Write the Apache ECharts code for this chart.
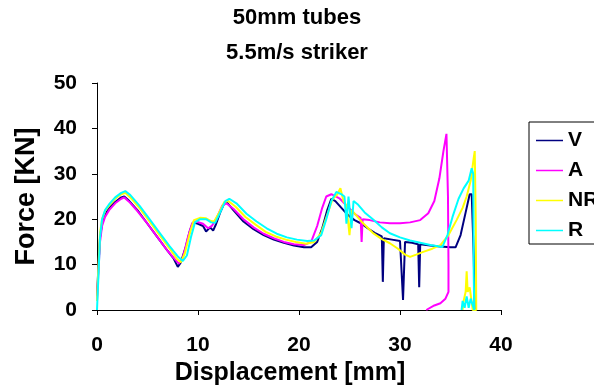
<!DOCTYPE html>
<html>
<head>
<meta charset="utf-8">
<script src="https://cdn.jsdelivr.net/npm/echarts@6/dist/echarts.min.js"></script>
<style>
  html, body { margin: 0; padding: 0; background: #fff; }
  #chart { width: 594px; height: 392px; }
</style>
</head>
<body>
<div id="chart"></div>
<script>
// series names + colours
const SERIES_NAMES = ['V', 'A', 'NR', 'R'];
const SERIES_COLORS = ['#000080', '#FF00FF', '#FFFF00', '#00FFFF'];

// [displacement mm, force kN]
const vData = [
  [0, 3], [0.15, 10], [0.3, 16], [0.5, 19], [0.8, 21], [1.2, 22.5], [1.8, 23.8], [2.4, 24.8], [2.7, 25],
  [3.2, 24], [4, 22], [5, 19], [6, 16], [7, 13], [7.6, 11.3], [8, 9.5], [8.3, 10.5], [8.8, 14], [9.2, 17.5],
  [9.5, 19.3], [10, 19], [10.5, 18.5], [10.8, 17.3], [11.2, 18.2], [11.5, 17.5], [11.8, 19], [12.2, 21.5],
  [12.6, 23.5], [12.9, 23.6], [13.5, 22], [14.5, 19.5], [15.5, 17.8], [16.5, 16.5], [17.5, 15.5], [18.5, 14.8],
  [19.5, 14.2], [20.5, 13.8], [21.2, 13.8], [21.8, 15], [22.3, 18], [22.8, 22], [23.2, 24.5], [23.6, 24],
  [24.2, 22.5], [24.8, 21], [25.5, 19.8], [26.2, 19], [26.8, 18], [27.5, 17], [28.2, 16.2], [28.3, 6.2],
  [28.4, 15.8], [29.2, 15.5], [30, 15.2], [30.3, 2.2], [30.5, 15], [31.2, 14.8], [31.8, 14.5], [31.9, 5],
  [32, 14.5], [33, 14.2], [34, 14], [35, 13.8], [35.5, 13.8], [36, 16.5], [36.5, 21.5], [36.9, 25.5],
  [37.1, 25.5], [37.3, 12], [37.4, 0]
];
const aData = [
  [0, 2], [0.15, 9], [0.3, 15], [0.5, 18.5], [0.8, 20.5], [1.2, 22], [1.8, 23.5], [2.4, 24.5], [2.7, 24.8],
  [3.2, 23.8], [4, 21.8], [5, 19], [6, 16], [7, 13], [7.7, 11.2], [8.1, 10.2], [8.5, 11.5], [9, 16], [9.4, 19],
  [9.8, 19.5], [10.5, 19], [11, 18], [11.4, 18.6], [11.9, 20.5], [12.4, 23], [12.8, 23.5], [13.5, 22.3],
  [14.5, 20], [15.5, 18.2], [16.5, 16.8], [17.5, 15.8], [18.5, 15], [19.5, 14.5], [20.5, 14.3], [21.2, 15],
  [21.8, 18.5], [22.3, 22.5], [22.7, 25], [23.2, 25.5], [24, 24.6], [24.8, 22.8], [25.6, 21], [26.1, 20.3],
  [26.2, 15], [26.3, 20], [27, 19.8], [28, 19.3], [29, 19.1], [30, 19.1], [31, 19.3], [32, 19.8], [32.8, 21.3],
  [33.4, 24], [33.9, 29], [34.3, 35], [34.6, 38.8], [34.75, 25], [34.8, 10], [34.8, 4], [34.5, 2.5],
  [34, 1.5], [33.4, 1], [32.6, 0]
];
const nrData = [
  [0, 2], [0.15, 10], [0.3, 17], [0.5, 20], [0.8, 21.8], [1.2, 23], [1.8, 24.5], [2.4, 25.5], [2.8, 25.8],
  [3.3, 24.8], [4.2, 22.5], [5.2, 19.5], [6.2, 16.5], [7.2, 13.5], [7.9, 11.3], [8.3, 10.5], [8.7, 12.5],
  [9.2, 17], [9.6, 19.8], [10.2, 20.3], [10.8, 20.2], [11.3, 19.6], [11.6, 19.5], [12.1, 21.5], [12.6, 23.8],
  [13, 24], [13.7, 22.8], [14.7, 20.5], [15.7, 18.8], [16.7, 17.2], [17.7, 16.2], [18.7, 15.5], [19.7, 15],
  [20.7, 14.6], [21.5, 15], [22.2, 17], [22.8, 21], [23.3, 24.3], [23.8, 25.5], [24.1, 26.8], [24.4, 24],
  [24.7, 23], [25, 16.5], [25.2, 22], [25.6, 21], [26.3, 19.2], [27.3, 17], [28.2, 15.6], [29, 14.7],
  [29.8, 13.5], [30.5, 12.2], [31, 11.7], [31.6, 12.2], [32.3, 12.8], [33.2, 13.5], [34, 14.3], [34.8, 16.5],
  [35.6, 19.8], [36.2, 22.5], [36.6, 25], [37, 28.5], [37.3, 33.5], [37.4, 35], [37.5, 20], [37.55, 0],
  [37.2, 0], [36.9, 5], [36.7, 4], [36.6, 8.5], [36.5, 4], [36.3, 2], [36.2, 0]
];
const rData = [
  [0, 0], [0.15, 8], [0.3, 16], [0.5, 20], [0.8, 22], [1.2, 23.3], [1.8, 24.8], [2.4, 25.8], [2.8, 26.2],
  [3.3, 25.3], [4.2, 23], [5.2, 20], [6.2, 17], [7.2, 14], [8, 11.8], [8.5, 10.8], [8.9, 12], [9.3, 16],
  [9.7, 19.3], [10.2, 20], [10.8, 20], [11.3, 19.3], [11.7, 19.2], [12.2, 21.5], [12.7, 24], [13.1, 24.5],
  [13.8, 23.5], [14.8, 21.2], [15.8, 19.5], [16.8, 18], [17.8, 16.8], [18.8, 16], [19.8, 15.5], [20.8, 15.2],
  [21.5, 15.3], [22.2, 16.5], [22.7, 20], [23.2, 24], [23.7, 26], [24.2, 25.5], [24.5, 25], [24.7, 19],
  [24.9, 25], [25.2, 18], [25.4, 24], [25.8, 23.3], [26.5, 21.5], [27.4, 19.8], [28.2, 18.2], [29, 16.9],
  [30, 16], [31, 15.3], [32, 14.8], [33, 14.3], [34.2, 13.9], [34.7, 16.5], [35.2, 20.5], [35.8, 24.5],
  [36.3, 26.8], [36.8, 28.5], [37.1, 31.2], [37.25, 30], [37.3, 8], [37.35, 0], [37, 2.5], [36.8, 0.5],
  [36.6, 3], [36.4, 0.5], [36.2, 2], [36.1, 0]
];
const SERIES_DATA = [vData, aData, nrData, rData];

// axes
const X_MIN = 0, X_MAX = 40, X_STEP = 10;
const Y_MIN = 0, Y_MAX = 50, Y_STEP = 10;

const FONT = "'Liberation Sans', Arial, sans-serif";
// thin bar for the legend key (plain line, no marker)
const LEGEND_LINE = 'path://M0,0 L27,0 L27,1.5 L0,1.5 Z';

const chart = echarts.init(document.getElementById('chart'));
chart.setOption({
  animation: false,
  backgroundColor: '#fff',
  textStyle: { fontFamily: FONT },
  title: {
    text: '50mm tubes\n5.5m/s striker',
    left: 297,
    textAlign: 'center',
    top: 0,
    padding: 0,
    textStyle: { fontSize: 22, fontWeight: 'bold', color: '#000', lineHeight: 35, fontFamily: FONT }
  },
  legend: {
    orient: 'vertical',
    left: 529,
    top: 122,
    padding: [8, 40, 3, 7],
    itemGap: 9,
    itemWidth: 27,
    itemHeight: 14,
    icon: LEGEND_LINE,
    borderColor: '#000',
    borderWidth: 1,
    borderRadius: 0,
    data: SERIES_NAMES,
    textStyle: { fontSize: 21, lineHeight: 21, fontWeight: 'bold', color: '#000' }
  },
  grid: { left: 97, right: 93, top: 83, bottom: 82 },
  xAxis: {
    type: 'value',
    min: X_MIN,
    max: X_MAX,
    interval: X_STEP,
    name: 'Displacement [mm]',
    nameLocation: 'middle',
    nameGap: 48,
    nameTextStyle: { fontSize: 25, fontWeight: 'bold', color: '#000', padding: [0, 18, 0, 0] },
    axisLine: { lineStyle: { color: '#000', width: 1 } },
    axisTick: { inside: false, length: 5, lineStyle: { color: '#000' } },
    splitLine: { show: false },
    axisLabel: { fontSize: 21, fontWeight: 'bold', color: '#000', margin: 25 }
  },
  yAxis: {
    type: 'value',
    min: Y_MIN,
    max: Y_MAX,
    interval: Y_STEP,
    name: 'Force [KN]',
    nameLocation: 'middle',
    nameRotate: 90,
    nameGap: 57,
    nameTextStyle: { fontSize: 27, fontWeight: 'bold', color: '#000' },
    axisLine: { show: true, lineStyle: { color: '#000', width: 1 } },
    axisTick: { show: true, inside: false, length: 5, lineStyle: { color: '#000' } },
    splitLine: { show: false },
    axisLabel: { fontSize: 21, fontWeight: 'bold', color: '#000', margin: 20 }
  },
  series: SERIES_NAMES.map((name, i) => ({
    type: 'line',
    name: name,
    data: SERIES_DATA[i],
    symbol: 'none',
    lineStyle: { color: SERIES_COLORS[i], width: 2 },
    itemStyle: { color: SERIES_COLORS[i] }
  }))
});
</script>
</body>
</html>
